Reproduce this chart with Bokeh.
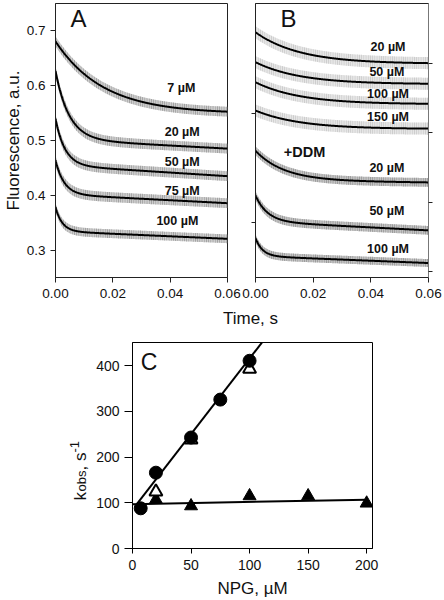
import numpy as np
from bokeh.plotting import figure
from bokeh.layouts import column, row
from bokeh.models import Range1d, LinearAxis, FixedTicker
from bokeh.core.properties import value
from bokeh.embed import file_html
from bokeh.resources import INLINE

# ---------------- data ----------------
time_ticks = [0.0, 0.02, 0.04, 0.06]
time_tick_labels = ["0.00", "0.02", "0.04", "0.06"]
fluor_ticks = [0.3, 0.4, 0.5, 0.6, 0.7]
fluor_tick_labels = ["0.3", "0.4", "0.5", "0.6", "0.7"]

# Panel A: fitted single-exponential decays  F = plateau + amp*exp(-k t) + drift*t
a_names = ["7 µM", "20 µM", "50 µM", "75 µM", "100 µM"]
a_plateau = [0.549, 0.502, 0.4547, 0.4018, 0.3344]
a_amp = [0.132, 0.125, 0.085, 0.062, 0.044]
a_k = [60, 210, 300, 330, 420]
a_drift = [0.0, -0.28, -0.33, -0.27, -0.23]
a_noise = [0.009, 0.009, 0.009, 0.009, 0.008]

# Panel B: without DDM (light traces) and with DDM (dark traces), offset vertically
b_names = ["20 µM", "50 µM", "100 µM", "150 µM", "20 µM", "50 µM", "100 µM"]
b_ddm = [False, False, False, False, True, True, True]
b_plateau = [0.545, 0.5264, 0.5081, 0.4855, 0.4385, 0.4011, 0.3695]
b_amp = [0.0288, 0.0201, 0.0201, 0.0169, 0.0272, 0.0238, 0.0164]
b_k = [65, 65, 65, 65, 100, 240, 400]
b_drift = [0.0, 0.0, 0.0, 0.0, -0.03, -0.135, -0.105]
b_noise = [0.0055, 0.0055, 0.0055, 0.0055, 0.0040, 0.0040, 0.0036]
b_left_ticks = [0.4, 0.5]
b_right_ticks = [0.05, 0.10, 0.15, 0.20]

# Panel C: observed rate constants vs NPG
npg_circle = [7, 20, 50, 75, 100]
kobs_circle = [88, 166, 243, 326, 411]
npg_open_tri = [20, 50, 100]
kobs_open_tri = [124, 238, 393]
npg_filled_tri = [20, 50, 100, 150, 200]
kobs_filled_tri = [107, 93, 115, 115, 99]
fit_steep = (3.31, 85.0)      # slope, intercept
fit_flat = (0.05, 97.0)
npg_ticks = [0, 50, 100, 150, 200]
kobs_ticks = [0, 100, 200, 300, 400]

# ---------------- style ----------------
FONT = "Liberation Sans"
AX = "#222222"
TXT = "#111111"


def style_axis(ax, tick_out=5, standoff=5, label_size="13.5px"):
    ax.axis_line_color = AX
    ax.axis_line_width = 1
    ax.major_tick_line_color = AX
    ax.major_tick_out = tick_out
    ax.major_tick_in = 0
    ax.minor_tick_line_color = None
    ax.major_label_text_font = FONT
    ax.major_label_text_font_size = label_size
    ax.major_label_text_color = TXT
    ax.major_label_standoff = standoff
    ax.axis_label_text_font = FONT
    ax.axis_label_text_font_style = "normal"
    ax.axis_label_text_font_size = "17px"
    ax.axis_label_text_color = TXT


def hide_labels(ax, ticks):
    ax.major_label_overrides = {tk: "" for tk in ticks}
    ax.major_label_text_color = None


def base_fig(xr, yr, fw, fh, bl, br, bt, bb, axes=True):
    kw = {}
    if not axes:
        kw = dict(x_axis_location=None, y_axis_location=None)
    p = figure(x_range=xr, y_range=yr, frame_width=fw, frame_height=fh,
               min_border_left=bl, min_border_right=br, min_border_top=bt,
               min_border_bottom=bb, output_backend="svg", toolbar_location=None,
               tools="", **kw)
    p.grid.visible = False
    p.outline_line_color = AX if axes else None
    p.outline_line_width = 1
    p.background_fill_color = "white"
    p.border_fill_color = "white"
    return p


t = np.linspace(0, 0.06, 400)


def draw_trace(p, plateau, amp, k, drift, noise, band_color, hatch_color):
    fit = plateau + amp * np.exp(-k * t) + drift * t
    p.varea(x=t, y1=fit - noise, y2=fit + noise, fill_color=band_color, fill_alpha=0.8,
            hatch_pattern="|", hatch_color=hatch_color, hatch_scale=2.2, hatch_weight=0.9,
            hatch_alpha=0.8)
    p.line(t, fit, line_color="black", line_width=2)


def put_text(p, xs, ys, texts, size, bold=False, angle=0.0, align="left", baseline="middle"):
    p.text(x=xs, y=ys, text=texts, angle=angle, text_font=value(FONT),
           text_font_style="bold" if bold else "normal", text_font_size=size,
           text_baseline=baseline, text_align=align, text_color=TXT)


# ---------------- Panel A ----------------
pA = base_fig(Range1d(0, 0.06), Range1d(0.25, 0.75), 172, 274, 55, 14, 3, 28)
for i in range(len(a_names)):
    draw_trace(pA, a_plateau[i], a_amp[i], a_k[i], a_drift[i], a_noise[i], "#c0c0c0", "#808080")
put_text(pA, [0.0390, 0.0381, 0.0381, 0.0381, 0.0352],
         [0.5961, 0.5164, 0.4604, 0.4075, 0.354], a_names, "12.5px", bold=True)
put_text(pA, [0.0052], [0.7226], ["A"], "24px")
pA.xaxis.ticker = FixedTicker(ticks=time_ticks)
pA.xaxis.major_label_overrides = dict(zip(time_ticks, time_tick_labels))
pA.yaxis.ticker = FixedTicker(ticks=fluor_ticks)
pA.yaxis.major_label_overrides = dict(zip(fluor_ticks, fluor_tick_labels))
pA.yaxis.axis_label = "Fluorescence, a.u."
style_axis(pA.xaxis[0], tick_out=5, standoff=6)
style_axis(pA.yaxis[0], tick_out=5, standoff=5)
pA.yaxis.axis_label_standoff = 1

# ---------------- Panel B ----------------
pB = base_fig(Range1d(0, 0.06), Range1d(0.35, 0.60), 173, 274, 14, 16, 3, 28)
pB.extra_y_ranges = {"r": Range1d(0.0457, 0.2433)}
for i in range(len(b_names)):
    if b_ddm[i]:
        draw_trace(pB, b_plateau[i], b_amp[i], b_k[i], b_drift[i], b_noise[i], "#b4b4b4", "#7a7a7a")
    else:
        draw_trace(pB, b_plateau[i], b_amp[i], b_k[i], b_drift[i], b_noise[i], "#e0e0e0", "#b8b8b8")
put_text(pB, [0.0399, 0.0395, 0.0387, 0.0387, 0.0395, 0.0395, 0.0387],
         [0.560, 0.5373, 0.517, 0.4963, 0.4498, 0.4103, 0.3763], b_names, "12.5px", bold=True)
put_text(pB, [0.0098], [0.4644], ["+DDM"], "14.5px", bold=True)
put_text(pB, [0.0087], [0.5863], ["B"], "24px")
pB.xaxis.ticker = FixedTicker(ticks=time_ticks)
pB.xaxis.major_label_overrides = dict(zip(time_ticks, time_tick_labels))
pB.yaxis.ticker = FixedTicker(ticks=b_left_ticks)
style_axis(pB.xaxis[0], tick_out=5, standoff=6)
style_axis(pB.yaxis[0], tick_out=4)
hide_labels(pB.yaxis[0], b_left_ticks)
raxis = LinearAxis(y_range_name="r", ticker=FixedTicker(ticks=b_right_ticks))
style_axis(raxis, tick_out=4)
hide_labels(raxis, b_right_ticks)
raxis.axis_line_color = "#777777"
pB.add_layout(raxis, "right")

# ---------------- shared time-axis title ----------------
pT = base_fig(Range1d(0, 444), Range1d(0, 25), 444, 25, 0, 0, 0, 0, axes=False)
put_text(pT, [250], [12], ["Time, s"], "17px", align="center")

# ---------------- k_obs axis title (with sub/superscripts) ----------------
pK = base_fig(Range1d(0, 92), Range1d(0, 270), 92, 270, 0, 0, 0, 0, axes=False)
half_pi = np.pi / 2
put_text(pK, [79.5], [112.0], ["k"], "17px", angle=half_pi, baseline="alphabetic")
put_text(pK, [81.0], [121.0], ["obs"], "13px", angle=half_pi, baseline="alphabetic")
put_text(pK, [79.5], [142.0], [", s"], "17px", angle=half_pi, baseline="alphabetic")
put_text(pK, [73.5], [160.0], ["-1"], "13px", angle=half_pi, baseline="alphabetic")

# ---------------- Panel C ----------------
pC = base_fig(Range1d(0, 205), Range1d(0, 451), 240, 206, 40, 72, 12, 52)
pC.outline_line_color = "black"
xs = np.array([4.0, 130.0])
pC.line(xs, fit_steep[0] * xs + fit_steep[1], line_color="black", line_width=2)
xf = np.array([0.0, 200.0])
pC.line(xf, fit_flat[0] * xf + fit_flat[1], line_color="black", line_width=2)
pC.scatter(npg_filled_tri, kobs_filled_tri, marker="triangle", size=13, fill_color="black",
           line_color="black")
pC.scatter(npg_open_tri, kobs_open_tri, marker="triangle", size=13, fill_color="white",
           line_color="black", line_width=2)
pC.scatter(npg_circle, kobs_circle, marker="circle", size=13, fill_color="black",
           line_color="black")
put_text(pC, [7.1], [408.8], ["C"], "23px")
pC.xaxis.ticker = FixedTicker(ticks=npg_ticks)
pC.yaxis.ticker = FixedTicker(ticks=kobs_ticks)
pC.xaxis.axis_label = "NPG, µM"
style_axis(pC.xaxis[0], tick_out=5, standoff=6, label_size="14px")
style_axis(pC.yaxis[0], tick_out=8, standoff=5, label_size="14px")
pC.xaxis.axis_label_standoff = 6
for ax in (pC.xaxis[0], pC.yaxis[0]):
    ax.axis_line_color = "black"
    ax.major_tick_line_color = "black"

layout = column(row(pA, pB, spacing=0), pT, row(pK, pC, spacing=0), spacing=0)
open("out.html", "w").write(file_html(layout, INLINE))
